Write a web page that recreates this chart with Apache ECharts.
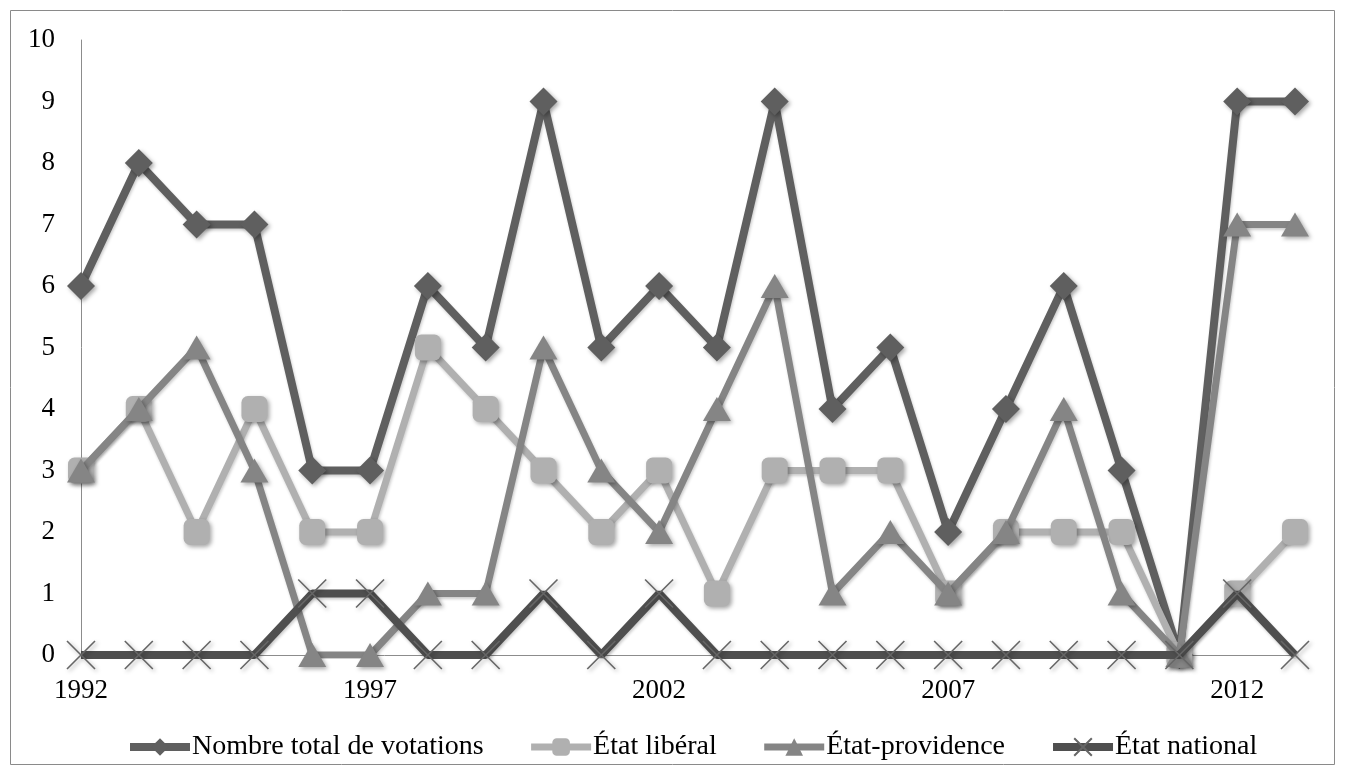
<!DOCTYPE html>
<html>
<head>
<meta charset="utf-8">
<script src="https://cdn.jsdelivr.net/npm/echarts@6/dist/echarts.min.js"></script>
<style>
  html, body { margin: 0; padding: 0; background: #fff; }
  #chart { width: 1345px; height: 775px; }
</style>
</head>
<body>
<div id="chart"></div>
<script>
// Votations par année et par type d'État
const years = ['1992','1993','1994','1995','1996','1997','1998','1999','2000','2001','2002',
               '2003','2004','2005','2006','2007','2008','2009','2010','2011','2012','2013'];
const totalVotations = [6, 8, 7, 7, 3, 3, 6, 5, 9, 5, 6, 5, 9, 4, 5, 2, 4, 6, 3, 0, 9, 9];
const etatLiberal    = [3, 4, 2, 4, 2, 2, 5, 4, 3, 2, 3, 1, 3, 3, 3, 1, 2, 2, 2, 0, 1, 2];
const etatProvidence = [3, 4, 5, 3, 0, 0, 1, 1, 5, 3, 2, 4, 6, 1, 2, 1, 2, 4, 1, 0, 7, 7];
const etatNational   = [0, 0, 0, 0, 1, 1, 0, 0, 1, 0, 1, 0, 0, 0, 0, 0, 0, 0, 0, 0, 1, 0];
const yTicks = [0, 1, 2, 3, 4, 5, 6, 7, 8, 9, 10];

const FONT = 'Liberation Serif';
const shadow = { shadowBlur: 4, shadowColor: 'rgba(0,0,0,0.35)', shadowOffsetX: 2, shadowOffsetY: 2 };
const lineShadow = { shadowBlur: 3, shadowColor: 'rgba(0,0,0,0.2)', shadowOffsetX: 1, shadowOffsetY: 2 };

const chart = echarts.init(document.getElementById('chart'), null, { renderer: 'canvas' });

chart.setOption({
  animation: false,
  backgroundColor: '#ffffff',
  textStyle: { fontFamily: FONT },
  graphic: [{
    type: 'rect',
    shape: { x: 10.5, y: 10.5, width: 1324, height: 754 },
    style: { fill: 'none', stroke: '#8a8a8a', lineWidth: 1 },
    silent: true
  }],
  grid: { left: 81, right: 50, top: 40, bottom: 120, containLabel: false },
  legend: {
    left: 121,
    top: 728,
    itemWidth: 60,
    itemHeight: 22,
    itemGap: 44,
    lineStyle: { width: 'inherit' },
    textStyle: { fontFamily: FONT, fontSize: 28, color: '#000', padding: [0, 0, 0, -3] },
    data: ['Nombre total de votations', 'État libéral', 'État-providence', 'État national']
  },
  xAxis: {
    type: 'category',
    data: years,
    boundaryGap: false,
    axisLine: { lineStyle: { color: '#8c8c8c', width: 1 } },
    axisTick: { show: false },
    axisLabel: { interval: 4, margin: 22, fontFamily: FONT, fontSize: 27, color: '#000' },
    splitLine: { show: false }
  },
  yAxis: {
    type: 'value',
    min: yTicks[0],
    max: yTicks[yTicks.length - 1],
    interval: 1,
    axisLine: { show: true, lineStyle: { color: '#8c8c8c', width: 1 } },
    axisTick: { show: false },
    axisLabel: { margin: 26, fontFamily: FONT, fontSize: 27, color: '#000' },
    splitLine: { show: false }
  },
  series: [
    {
      name: 'Nombre total de votations',
      type: 'line',
      data: totalVotations,
      symbol: 'diamond',
      symbolSize: [28, 28],
      z: 2,
      itemStyle: Object.assign({ color: '#5f5f5f' }, shadow),
      lineStyle: Object.assign({ color: '#5f5f5f', width: 8 }, lineShadow)
    },
    {
      name: 'État libéral',
      type: 'line',
      data: etatLiberal,
      symbol: 'roundRect',
      symbolSize: [26, 26],
      z: 3,
      itemStyle: Object.assign({ color: '#b0b0b0' }, shadow),
      lineStyle: Object.assign({ color: '#b0b0b0', width: 7 }, lineShadow)
    },
    {
      name: 'État-providence',
      type: 'line',
      data: etatProvidence,
      symbol: 'triangle',
      symbolSize: [28, 24],
      z: 4,
      itemStyle: Object.assign({ color: '#858585' }, shadow),
      lineStyle: Object.assign({ color: '#858585', width: 7 }, lineShadow)
    },
    {
      name: 'État national',
      type: 'line',
      data: etatNational,
      symbol: 'path://M0,0L10,10M10,0L0,10',
      symbolSize: [28, 28],
      z: 5,
      itemStyle: Object.assign({ color: 'none', borderColor: '#666666', borderWidth: 1.6 }, shadow),
      lineStyle: Object.assign({ color: '#4f4f4f', width: 8 }, lineShadow)
    }
  ]
});
</script>
</body>
</html>
